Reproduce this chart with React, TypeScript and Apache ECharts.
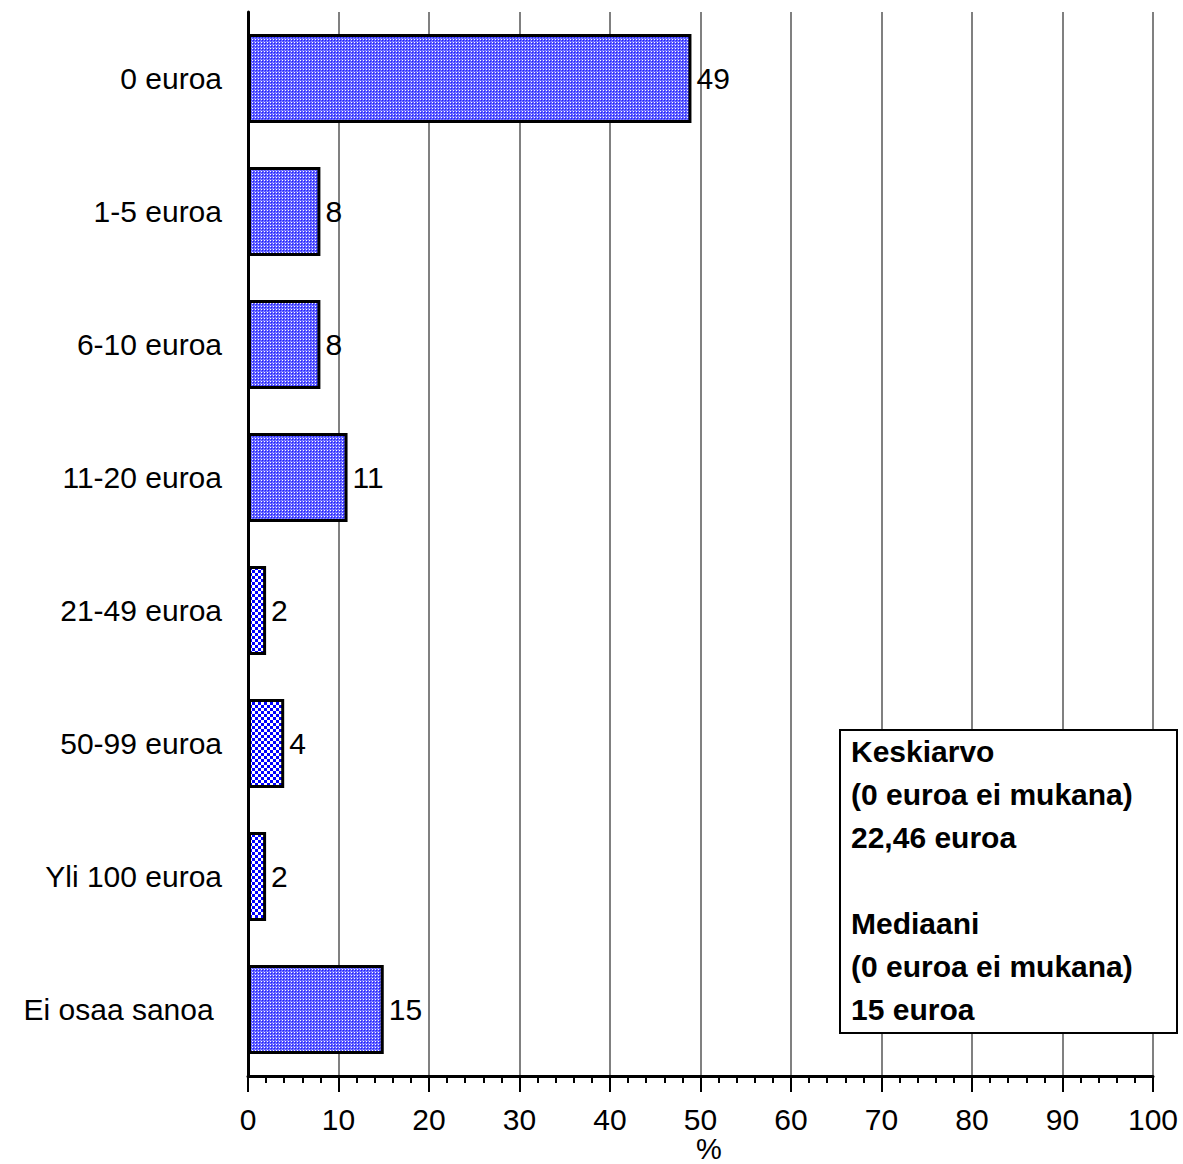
import React, { useEffect, useRef } from "react";
import * as echarts from "echarts";

const categories = [
  "0 euroa",
  "1-5 euroa",
  "6-10 euroa",
  "11-20 euroa",
  "21-49 euroa",
  "50-99 euroa",
  "Yli 100 euroa",
  "Ei osaa sanoa ",
];
const values = [49, 8, 8, 11, 2, 4, 2, 15];
const xTicks = { min: 0, max: 100, interval: 10 };
const xAxisTitle = "%";
const boxLines = [
  "Keskiarvo",
  "(0 euroa ei mukana)",
  "22,46 euroa",
  "",
  "Mediaani",
  "(0 euroa ei mukana)",
  "15 euroa",
];

const FONT = '"Liberation Sans", Arial, sans-serif';

function makeDotPattern(): HTMLCanvasElement {
  const c = document.createElement("canvas");
  c.width = 3;
  c.height = 3;
  const ctx = c.getContext("2d")!;
  ctx.fillStyle = "#5c5cff";
  ctx.fillRect(0, 0, 3, 3);
  ctx.fillStyle = "#ffffff";
  ctx.fillRect(0, 0, 1, 1);
  ctx.fillStyle = "#2020ff";
  ctx.fillRect(1, 1, 1, 1);
  ctx.fillStyle = "#9090ff";
  ctx.fillRect(2, 2, 1, 1);
  return c;
}

function makeCheckPattern(): HTMLCanvasElement {
  const c = document.createElement("canvas");
  c.width = 6;
  c.height = 6;
  const ctx = c.getContext("2d")!;
  ctx.fillStyle = "#ffffff";
  ctx.fillRect(0, 0, 6, 6);
  ctx.fillStyle = "#0000ff";
  ctx.fillRect(0, 0, 3, 3);
  ctx.fillRect(3, 3, 3, 3);
  return c;
}

export default function App() {
  const ref = useRef<HTMLDivElement>(null);
  useEffect(() => {
    if (!ref.current) return;
    document.body.style.margin = "0";
    const chart = echarts.init(ref.current, undefined, { renderer: "svg" });
    const dot = makeDotPattern();
    const check = makeCheckPattern();
    const data = values.map((v) => ({
      value: v,
      itemStyle: {
        color: { image: v < 5 ? check : dot, repeat: "repeat" } as any,
      },
    }));
    chart.setOption({
      animation: false,
      backgroundColor: "#ffffff",
      grid: {
        left: 248,
        right: 30,
        top: 12,
        bottom: 88,
        containLabel: false,
        outerBoundsMode: "none",
      },
      xAxis: {
        type: "value",
        min: xTicks.min,
        max: xTicks.max,
        interval: xTicks.interval,
        axisLine: { show: true, lineStyle: { color: "#000", width: 3 } },
        axisTick: { show: true, length: 16, lineStyle: { color: "#000", width: 2 } },
        minorTick: {
          show: true,
          splitNumber: 5,
          length: 7,
          lineStyle: { color: "#000", width: 2 },
        },
        splitLine: { show: true, lineStyle: { color: "#808080", width: 2 } },
        axisLabel: { fontSize: 30, color: "#000", fontFamily: FONT, margin: 28 },
      },
      yAxis: {
        type: "category",
        data: categories,
        inverse: true,
        axisLine: { show: true, lineStyle: { color: "#000", width: 3 } },
        axisTick: { show: false },
        splitLine: { show: false },
        axisLabel: { fontSize: 30, color: "#000", fontFamily: FONT, margin: 26 },
      },
      series: [
        {
          type: "bar",
          data,
          barCategoryGap: "33%",
          itemStyle: { borderColor: "#000", borderWidth: 3 },
          label: {
            show: true,
            position: "right",
            distance: 5,
            fontSize: 30,
            color: "#000",
            fontFamily: FONT,
          },
        },
      ],
      graphic: [
        {
          type: "text",
          x: 709,
          y: 1134,
          style: {
            text: xAxisTitle,
            fill: "#000",
            font: `29px ${FONT}`,
            textAlign: "center",
            verticalAlign: "top",
          },
        },
        {
          type: "rect",
          shape: { x: 840, y: 730, width: 337, height: 303 },
          style: { fill: "#fff", stroke: "#000", lineWidth: 2 },
          z: 100,
        },
        {
          type: "text",
          x: 851,
          y: 730,
          z: 101,
          style: {
            text: boxLines.join("\n"),
            fill: "#000",
            font: `bold 30px ${FONT}`,
            lineHeight: 43,
            verticalAlign: "top",
          },
        },
      ],
    });
    return () => chart.dispose();
  }, []);
  return (
    <div
      ref={ref}
      style={{ position: "absolute", left: 0, top: 0, width: 1183, height: 1164 }}
    />
  );
}
